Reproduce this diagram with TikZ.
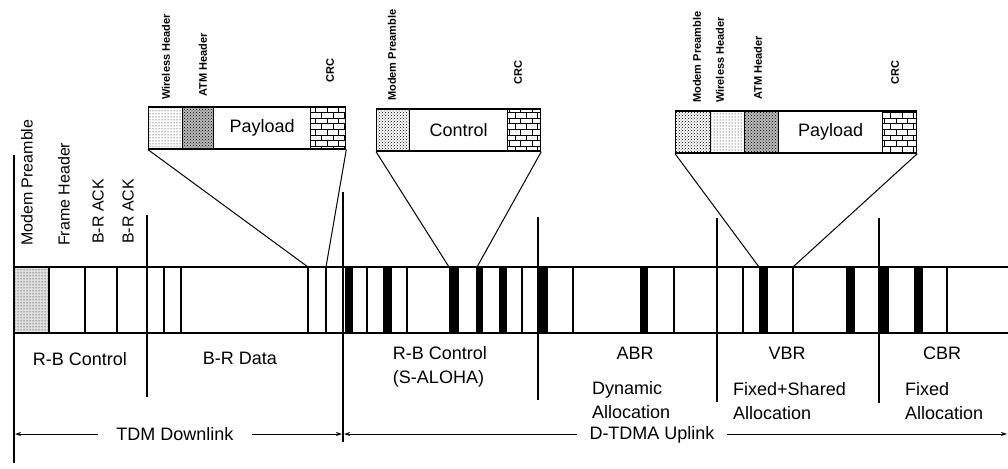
\documentclass[tikz,border=0pt]{standalone}
\usepackage{fontspec}
\setmainfont{Liberation Sans}
\usetikzlibrary{patterns,arrows.meta}
\tikzset{
  pcell/.style={draw, line width=1.3pt, minimum height=42pt, inner sep=0pt,
                anchor=west, font=\fontsize{18}{20}\selectfont},
  mpcell/.style={pcell, pattern=crosshatch dots},
  whcell/.style={pcell, pattern=dots},
  atmcell/.style={pcell, fill=gray!55, postaction={pattern=crosshatch dots}},
  crccell/.style={pcell, pattern=bricks},
  tag/.style={rotate=90, anchor=west, inner sep=0pt,
              font=\bfseries\fontsize{11}{12}\selectfont},
  bigtag/.style={rotate=90, anchor=west, inner sep=0pt,
                 font=\fontsize{16}{18}\selectfont},
  lbl/.style={inner sep=0pt, font=\fontsize{18}{24}\selectfont},
  divider/.style={line width=1.2pt},
  bound/.style={line width=2pt},
  span/.style={line width=1pt, -{Stealth[length=6pt,width=4pt]}},
}

\begin{document}
\begin{tikzpicture}[x=1pt, y=-1pt]
    \useasboundingbox (0,0) rectangle (1008,468);
    % frame bar
    \path[fill=gray!25, postaction={pattern=dots}] (14,267) rectangle (49,333);
    \draw[line width=1.3pt] (1008,267) -- (14,267) -- (14,333) -- (1008,333);
    \foreach \x in {49,85,117,164,181,308,326,367,407,522,573,674,743,793,947}
      \draw[divider] (\x,267) -- (\x,333);
    \foreach \a/\b in {345/353,383/392,449/459,476/483,499/507,539/548,
                       640/648,759/768,846/855,880/889,914/923}
      \fill (\a,267) rectangle (\b,333);
    \draw[bound] (14,155) -- (14,463);
    \draw[bound] (147,215) -- (147,397);
    \draw[bound] (343,192) -- (343,442);
    \draw[bound] (538,217) -- (538,400);
    \draw[bound] (717,218) -- (717,402);
    \draw[bound] (879,218) -- (879,403);
    % downlink fields
    \node[bigtag] (t-mp) at (27,246) {Modem Preamble};
    \node[bigtag] (t-fh) at (64,246) {Frame Header};
    \node[bigtag] (t-ack1) at (98,244) {B-R ACK};
    \node[bigtag] (t-ack2) at (128,244) {B-R ACK};
    % data packet
    \node[whcell, minimum width=34pt] (wh1) at (148,128) {};
    \node[atmcell, minimum width=31pt] (atm1) at (182,128) {};
    \node[pcell, minimum width=97pt] (pay1) at (213,128) {Payload};
    \node[crccell, minimum width=35pt] (crc1) at (310,128) {};
    \node[tag] (t-wh1) at (166,100) {Wireless Header};
    \node[tag] (t-atm1) at (203,97) {ATM Header};
    \node[tag] (t-crc1) at (330,83) {CRC};
    \coordinate (s1l) at (308,267);
    \coordinate (s1r) at (326,267);
    \draw[line width=1pt] (wh1.south west) -- (s1l);
    \draw[line width=1pt] (crc1.south east) -- (s1r);
    % control packet
    \node[mpcell, minimum width=33pt] (mp2) at (376,130) {};
    \node[pcell, minimum width=98pt] (ctl2) at (409,130) {Control};
    \node[crccell, minimum width=33pt] (crc2) at (507,130) {};
    \node[tag] (t-mp2) at (392,101) {Modem Preamble};
    \node[tag] (t-crc2) at (518,85) {CRC};
    \coordinate (s2l) at (449,267);
    \coordinate (s2r) at (477,267);
    \draw[line width=1pt] (mp2.south west) -- (s2l);
    \draw[line width=1pt] (crc2.south east) -- (s2r);
    % uplink packet
    \node[mpcell, minimum width=35pt] (mp3) at (675,132) {};
    \node[whcell, minimum width=34pt] (wh3) at (710,132) {};
    \node[atmcell, minimum width=34pt] (atm3) at (744,132) {};
    \node[pcell, minimum width=104pt] (pay3) at (778,132) {Payload};
    \node[crccell, minimum width=34pt] (crc3) at (882,132) {};
    \node[tag] (t-mp3) at (697,103) {Modem Preamble};
    \node[tag] (t-wh3) at (720,103) {Wireless Header};
    \node[tag] (t-atm3) at (758,100) {ATM Header};
    \node[tag] (t-crc3) at (895,85) {CRC};
    \coordinate (s3l) at (759,267);
    \coordinate (s3r) at (793,267);
    \draw[line width=1pt] (mp3.south west) -- (s3l);
    \draw[line width=1pt] (crc3.south east) -- (s3r);
    % slot labels
    \node[lbl, anchor=north] (rbc) at (80,352) {R-B Control};
    \node[lbl, anchor=north] (brd) at (240,352) {B-R Data};
    \node[lbl, anchor=north, align=left] (rba) at (440,346) {R-B Control\\(S-ALOHA)};
    \node[lbl, anchor=north] (abr) at (635,347) {ABR};
    \node[lbl, anchor=north west, align=left] (dyn) at (592,381) {Dynamic\\Allocation};
    \node[lbl, anchor=north] (vbr) at (787,347) {VBR};
    \node[lbl, anchor=north west, align=left] (fsh) at (733,382) {Fixed+Shared\\Allocation};
    \node[lbl, anchor=north] (cbr) at (942,347) {CBR};
    \node[lbl, anchor=north west, align=left] (fix) at (905,382) {Fixed\\Allocation};
    % link spans
    \node[lbl, inner xsep=18pt] (tdm) at (175,434) {TDM Downlink};
    \node[lbl, inner xsep=12pt] (dtdma) at (652,435) {D-TDMA Uplink};
    \coordinate (tdmL) at (15,434);
    \coordinate (tdmR) at (342,434);
    \coordinate (upL) at (344,434);
    \coordinate (upR) at (1007,434);
    \draw[span] (tdm.west |- tdmL) -- (tdmL);
    \draw[span] (tdm.east |- tdmR) -- (tdmR);
    \draw[span] (dtdma.west |- upL) -- (upL);
    \draw[span] (dtdma.east |- upR) -- (upR);
  \end{tikzpicture}
\end{document}
